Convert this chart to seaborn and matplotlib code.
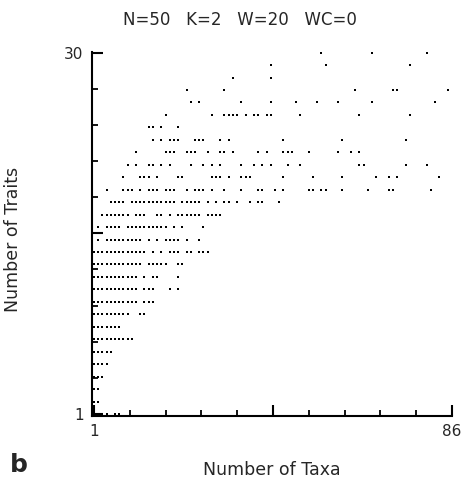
import numpy as np
import pandas as pd
import matplotlib
matplotlib.use("Agg")
import matplotlib.pyplot as plt
import seaborn as sns

# Number of taxa at which each number of traits was observed (one list per trait count)
row_30 = [55, 67, 80]
row_29 = [43, 56, 76]
row_28 = [34, 43]
row_27 = [23, 32, 63, 72, 73, 85]
row_26 = [24, 26, 36, 43, 49, 54, 59, 67, 82]
row_25 = [18, 29, 32, 33, 34, 35, 37, 39, 40, 42, 43, 50, 64, 76]
row_24 = [14, 15, 17, 21]
row_23 = [15, 17, 19, 20, 21, 25, 26, 27, 31, 33, 46, 60, 75]
row_22 = [11, 18, 19, 20, 23, 24, 25, 28, 31, 32, 34, 40, 42, 46, 47, 48, 52, 59, 62, 64]
row_21 = [9, 11, 14, 15, 17, 19, 24, 27, 29, 31, 36, 39, 41, 43, 47, 50, 64, 65, 75, 80]
row_20 = [8, 12, 13, 14, 16, 21, 22, 29, 30, 31, 33, 36, 37, 38, 46, 53, 60, 68, 71, 73, 83]
row_19 = [4, 8, 9, 10, 12, 14, 15, 16, 18, 19, 20, 23, 25, 26, 27, 29, 32, 36, 40, 41,
          44, 46, 52, 53, 55, 56, 60, 66, 71, 72, 81]
row_18 = [5, 6, 7, 8, 10, 11, 12, 13, 14, 15, 16, 17, 18, 19, 20, 22, 23, 24, 25, 26,
          28, 30, 32, 33, 35, 38, 40, 41, 45]
row_17 = [3, 4, 5, 6, 7, 8, 9, 11, 12, 13, 16, 17, 19, 21, 22, 23, 24, 25, 26, 28, 29, 30, 31]
row_16 = [2, 4, 5, 6, 7, 9, 10, 11, 12, 13, 14, 15, 16, 17, 18, 20, 22, 27]
row_15 = [2, 4, 5, 6, 7, 8, 9, 10, 11, 12, 14, 16, 18, 19, 20, 21, 23, 26]
row_14 = [1, 2, 3, 4, 5, 6, 7, 8, 9, 10, 11, 12, 13, 15, 17, 19, 20, 21, 23, 24, 26, 27, 28]
row_13 = [1, 2, 3, 4, 5, 6, 7, 8, 9, 10, 11, 12, 14, 15, 16, 17, 18, 21, 22]
row_12 = [1, 2, 3, 4, 5, 6, 7, 8, 9, 10, 11, 13, 15, 16, 21]
row_11 = [1, 2, 3, 4, 5, 6, 7, 8, 9, 10, 11, 13, 14, 15, 19, 21]
row_10 = [1, 2, 3, 4, 5, 6, 7, 8, 9, 10, 11, 13, 14, 15]
row_9 = [1, 2, 3, 4, 5, 6, 7, 8, 9, 12, 13]
row_8 = [1, 2, 3, 4, 5, 6, 7]
row_7 = [1, 2, 3, 4, 5, 6, 7, 8, 9, 10]
row_6 = [1, 2, 3, 4, 5]
row_5 = [1, 2, 3, 4]
row_4 = [1, 2, 3]
row_3 = [1, 2]
row_2 = [1, 2]
row_1 = [1, 4, 6, 7]

trait_rows = [
    (30, row_30), (29, row_29), (28, row_28), (27, row_27), (26, row_26),
    (25, row_25), (24, row_24), (23, row_23), (22, row_22), (21, row_21),
    (20, row_20), (19, row_19), (18, row_18), (17, row_17), (16, row_16),
    (15, row_15), (14, row_14), (13, row_13), (12, row_12), (11, row_11),
    (10, row_10), (9, row_9), (8, row_8), (7, row_7), (6, row_6),
    (5, row_5), (4, row_4), (3, row_3), (2, row_2), (1, row_1),
]

title_text = "N=50   K=2   W=20   WC=0"
x_label = "Number of Taxa"
y_label = "Number of Traits"
x_tick_labels = ["1", "", "86"]
y_tick_labels = ["1", "", "30"]

records = []
for trait, taxa_list in trait_rows:
    for t in taxa_list:
        records.append({"taxa": t, "traits": trait})
df = pd.DataFrame(records)

sns.set_style("ticks")
plt.rcParams["font.family"] = ["DejaVu Sans"]

W, H = 474, 479
fig = plt.figure(figsize=(W / 100, H / 100), dpi=100)
ax = fig.add_axes([92 / W, 1 - 416 / H, 360 / W, 364 / H])

sns.scatterplot(data=df, x="taxa", y="traits", marker="s", s=2.2,
                color="black", linewidth=0, ax=ax, legend=False)

ax.set_xlim(0.55, 86)
ax.set_ylim(0.84, 30.05)

sns.despine(ax=ax)
for side in ["left", "bottom"]:
    ax.spines[side].set_linewidth(1.5)
    ax.spines[side].set_color("black")

# major (labelled / long) ticks and minor short ticks
x_major = [1, 43.5, 86]
y_major = [1, 15.5, 30]
ax.set_xticks(x_major)
ax.set_xticklabels(x_tick_labels)
ax.set_yticks(y_major)
ax.set_yticklabels(y_tick_labels)
ax.set_xticks(np.linspace(1, 86, 11), minor=True)
ax.set_yticks(np.linspace(1, 30, 11), minor=True)
ax.tick_params(axis="both", which="major", direction="in", length=8, width=1.5,
               labelsize=11, pad=6, color="black")
ax.tick_params(axis="both", which="minor", direction="in", length=4, width=1.3,
               color="black")

ax.set_xlabel(x_label, fontsize=12.5)
ax.set_ylabel(y_label, fontsize=12.5)
ax.xaxis.set_label_coords(0.5, -0.124)
ax.yaxis.set_label_coords(-0.194, 0.484)

fig.text(240 / W, 1 - 20 / H, title_text, ha="center", va="center", fontsize=12)
fig.text(10 / W, 1 - 477 / H, "b", ha="left", va="bottom", fontsize=18,
         fontweight="bold")

fig.savefig("out.png", dpi=100, facecolor="white")
